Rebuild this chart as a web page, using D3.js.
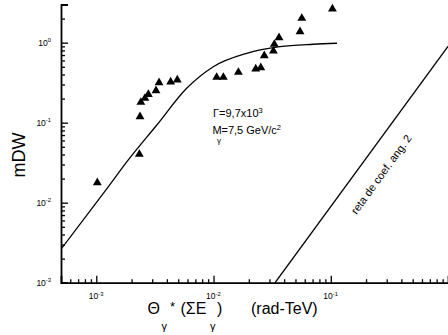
<!DOCTYPE html>
<html>
<head>
<meta charset="utf-8">
<script src="https://cdn.jsdelivr.net/npm/d3@7"></script>
<style>
  html, body { margin: 0; padding: 0; background: #fff; }
  svg { display: block; font-family: "Liberation Sans", Arial, Helvetica, sans-serif; }
</style>
</head>
<body>
<svg id="chart" width="448" height="335"></svg>
<script>
// Measured mDW versus Θγ*(ΣEγ)
const thetaObs = [0.00102, 0.00233, 0.00236, 0.00240, 0.00260, 0.00278, 0.00323, 0.00343,
  0.00431, 0.00491, 0.01064, 0.01213, 0.0163, 0.0229, 0.0253, 0.0271, 0.0324, 0.0330,
  0.0362, 0.0547, 0.0566, 0.1033];
const mdwObs = [0.0178, 0.0403, 0.119, 0.180, 0.202, 0.226, 0.251, 0.316,
  0.323, 0.342, 0.369, 0.369, 0.427, 0.469, 0.487, 0.688, 0.787, 0.955,
  1.155, 1.373, 2.02, 2.64];

// Model curve for Γ = 9.7x10^3, Mγ = 7.5 GeV/c²
const thetaFit = [0.0005, 0.001265, 0.001875, 0.00327, 0.0059, 0.00996, 0.0192, 0.0369, 0.0711, 0.113];
const mdwFit = [0.00262, 0.0158, 0.0342, 0.0928, 0.269, 0.501, 0.737, 0.891, 0.955, 0.983];

// Reference line of slope 2
const thetaRef = [0.0335, 1.0];
const mdwRef = [0.001, 0.9];

// Axis ticks
const xMajor = [1e-3, 1e-2, 1e-1];
const xMajorLabels = ["-3", "-2", "-1"];
const yMajor = [1e-3, 1e-2, 1e-1, 1];
const yMajorLabels = ["-3", "-2", "-1", "0"];

const svg = d3.select("#chart");
const font = "'Liberation Sans', Arial, Helvetica, sans-serif";

const x = d3.scaleLog().domain([5e-4, 1]).range([61, 448]);
const y = d3.scaleLog().domain([1e-3, 3]).range([282.7, 4.5]);

function minorTicks(lo, hi) {
  const out = [];
  for (let e = Math.floor(Math.log10(lo)); e <= Math.ceil(Math.log10(hi)); e++) {
    for (let m = 2; m <= 9; m++) {
      const v = m * Math.pow(10, e);
      if (v > lo * 1.0001 && v <= hi * 1.0001) out.push(v);
    }
  }
  return out;
}

svg.append("defs").append("clipPath").attr("id", "plot")
  .append("rect").attr("x", 61).attr("y", 0).attr("width", 387).attr("height", 283);

// Axes: ticks point into the plot
const yAxisMajor = d3.axisLeft(y).tickValues(yMajor).tickSize(-7).tickFormat("");
const yAxisMinor = d3.axisLeft(y).tickValues(minorTicks(1e-3, 3)).tickSize(-4).tickFormat("");
const xAxisMajor = d3.axisBottom(x).tickValues(xMajor).tickSize(-7).tickFormat("");
const xAxisMinor = d3.axisBottom(x).tickValues(minorTicks(5e-4, 1)).tickSize(-3.5).tickFormat("");

function styleAxis(g) {
  g.select(".domain").attr("stroke", "#000").attr("stroke-width", 1.8);
  g.selectAll(".tick line").attr("stroke", "#000").attr("stroke-width", 1.3);
}

svg.append("g").attr("transform", "translate(61,0)").call(yAxisMinor).call(styleAxis).select(".domain").remove();
svg.append("g").attr("transform", "translate(61,0)").call(yAxisMajor).call(styleAxis);
svg.append("g").attr("transform", "translate(0,282.7)").call(xAxisMinor).call(styleAxis).select(".domain").remove();
svg.append("g").attr("transform", "translate(0,282.7)").call(xAxisMajor).call(styleAxis);

// Tick labels as powers of ten
yMajor.forEach((v, i) => {
  const t = svg.append("text").attr("x", 51).attr("y", y(v) + 3.2)
    .attr("text-anchor", "end").attr("font-size", 8.5).attr("font-family", font).attr("fill", "#000");
  t.append("tspan").text("10");
  t.append("tspan").attr("dy", -3.5).attr("font-size", 5.8).text(yMajorLabels[i]);
});
xMajor.forEach((v, i) => {
  const t = svg.append("text").attr("x", x(v) - 7.5).attr("y", 299)
    .attr("font-size", 8.5).attr("font-family", font).attr("fill", "#000");
  t.append("tspan").text("10");
  t.append("tspan").attr("dy", -3.5).attr("font-size", 5.8).text(xMajorLabels[i]);
});

// Axis titles
svg.append("text").attr("transform", "translate(24.5,155) rotate(-90)")
  .attr("text-anchor", "middle").attr("font-size", 18).attr("font-family", font).text("mDW");

const xt = [
  { s: "Θ", x: 147.5, y: 314, f: 16 },
  { s: "γ", x: 161.5, y: 330, f: 11 },
  { s: "*", x: 170, y: 311, f: 13 },
  { s: "(ΣE", x: 180.5, y: 314, f: 16 },
  { s: "γ", x: 210, y: 330, f: 11 },
  { s: ")", x: 217, y: 314, f: 16 },
  { s: "(rad-TeV)", x: 251, y: 314, f: 16 }
];
svg.selectAll("text.xt").data(xt).join("text").attr("class", "xt")
  .attr("x", d => d.x).attr("y", d => d.y).attr("font-size", d => d.f)
  .attr("font-family", font).text(d => d.s);

const plot = svg.append("g").attr("clip-path", "url(#plot)");

// Model curve
const fitPts = thetaFit.map((t, i) => [t, mdwFit[i]]);
plot.append("path").datum(fitPts)
  .attr("d", d3.line().x(d => x(d[0])).y(d => y(d[1])).curve(d3.curveMonotoneX))
  .attr("fill", "none").attr("stroke", "#000").attr("stroke-width", 1.3);

// Slope-2 reference line
const refPts = thetaRef.map((t, i) => [t, mdwRef[i]]);
plot.append("path").datum(refPts)
  .attr("d", d3.line().x(d => x(d[0])).y(d => y(d[1])))
  .attr("fill", "none").attr("stroke", "#000").attr("stroke-width", 1.3);

// Measurements
const tri = d3.symbol().type(d3.symbolTriangle).size(34);
plot.selectAll("path.obs").data(thetaObs.map((t, i) => [t, mdwObs[i]])).join("path")
  .attr("class", "obs")
  .attr("transform", d => `translate(${x(d[0])},${y(d[1])})`)
  .attr("d", tri).attr("fill", "#000");

// Curve parameters
const g1 = svg.append("text").attr("x", 213).attr("y", 116.5)
  .attr("font-size", 11).attr("font-family", font);
g1.append("tspan").text("Γ=9,7x10");
g1.append("tspan").attr("dy", -4).attr("font-size", 7.5).text("3");

svg.append("text").attr("x", 212.5).attr("y", 133.5).attr("font-size", 11).attr("font-family", font).text("M");
svg.append("text").attr("x", 217).attr("y", 142.5).attr("font-size", 8).attr("font-family", font).text("γ");
const g2 = svg.append("text").attr("x", 221.5).attr("y", 133.5)
  .attr("font-size", 11).attr("font-family", font);
g2.append("tspan").text("=7,5 GeV/c");
g2.append("tspan").attr("dy", -4).attr("font-size", 7.5).text("2");

// Label along the reference line
svg.append("text").attr("transform", "translate(382,175) rotate(-54)")
  .attr("text-anchor", "middle").attr("dominant-baseline", "middle")
  .attr("font-size", 11).attr("font-family", font).text("reta de coef. ang. 2");
</script>
</body>
</html>
